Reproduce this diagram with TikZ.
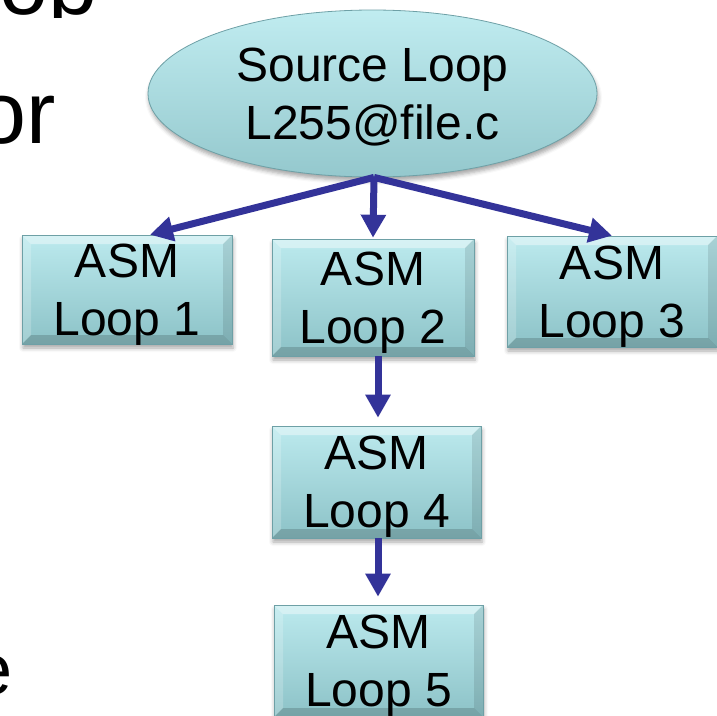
\documentclass[tikz,border=0pt]{standalone}
\usepackage{fontspec}
\setmainfont{Liberation Sans}
\usetikzlibrary{arrows.meta,shapes.geometric,shadows.blur,calc}

\definecolor{boxtop}{RGB}{188,234,238}
\definecolor{boxbot}{RGB}{140,194,199}
\definecolor{boxedge}{RGB}{110,160,166}
\definecolor{elltop}{RGB}{192,236,240}
\definecolor{ellbot}{RGB}{148,200,205}
\definecolor{arrowblue}{RGB}{51,51,153}

\newcommand{\labelfont}{\fontsize{48}{58}\selectfont}
\newcommand{\slidefont}{\fontsize{88}{100}\selectfont}
\newcommand{\subslidefont}{\fontsize{72}{84}\selectfont}

\tikzset{
  bevel/.style={
    path picture={
      \coordinate (nw) at (path picture bounding box.north west);
      \coordinate (ne) at (path picture bounding box.north east);
      \coordinate (sw) at (path picture bounding box.south west);
      \coordinate (se) at (path picture bounding box.south east);
      \fill[white,opacity=.40] (nw) -- (ne) -- ([shift={(-#1,-#1)}]ne) -- ([shift={(#1,-#1)}]nw) -- cycle;
      \fill[white,opacity=.20] (nw) -- ([shift={(#1,-#1)}]nw) -- ([shift={(#1,#1)}]sw) -- (sw) -- cycle;
      \fill[black,opacity=.16] (sw) -- (se) -- ([shift={(-#1,#1)}]se) -- ([shift={(#1,#1)}]sw) -- cycle;
      \fill[black,opacity=.10] (ne) -- (se) -- ([shift={(-#1,#1)}]se) -- ([shift={(-#1,-#1)}]ne) -- cycle;
    }},
  asmbox/.style={rectangle, inner sep=0pt, align=center, text depth=0pt,
    font=\labelfont, top color=boxtop, bottom color=boxbot,
    draw=boxedge, line width=0.6pt, bevel=9pt,
    blur shadow={shadow xshift=1pt, shadow yshift=-4pt,
      shadow blur radius=4pt, shadow opacity=35}},
  loopell/.style={ellipse, inner sep=0pt, align=center, text depth=0pt,
    font=\labelfont, top color=elltop, bottom color=ellbot,
    draw=boxedge, line width=0.8pt,
    blur shadow={shadow xshift=1pt, shadow yshift=-4pt,
      shadow blur radius=4pt, shadow opacity=35}},
  link/.style={draw=arrowblue, line width=7pt,
    -{Triangle[width=24pt,length=23pt]}},
  slidetext/.style={inner sep=0pt, font=\slidefont, text=black}
}

\begin{document}
\begin{tikzpicture}[x=1pt,y=-1pt]
  \useasboundingbox (0,0) rectangle (717,715);

  % fragments of the surrounding slide text
  \begin{scope}
    \clip (0,0) rectangle (120,17);
    \node[slidetext, anchor=base east] (fragA) at (98,14) {oop};
  \end{scope}
  \node[slidetext, anchor=base east] (fragB) at (56,143) {or};
  \node[slidetext, font=\subslidefont, anchor=base east] (fragC) at (13,694) {e};

  % source loop and its assembly loops
  \node[loopell, minimum width=449pt, minimum height=167pt] (src) at (372.5,93.5)
    {Source Loop\\L255@file.c};
  \node[asmbox, minimum width=210pt, minimum height=109pt] (b1) at (127,289.5) {ASM\\Loop 1};
  \node[asmbox, minimum width=202pt, minimum height=117pt] (b2) at (373,297.5) {ASM\\Loop 2};
  \node[asmbox, minimum width=210pt, minimum height=111pt] (b3) at (612,291.5) {ASM\\Loop 3};
  \node[asmbox, minimum width=209pt, minimum height=112pt] (b4) at (376.5,482) {ASM\\Loop 4};
  \node[asmbox, minimum width=209pt, minimum height=112pt] (b5) at (378.5,661) {ASM\\Loop 5};

  % connectors
  \draw[link] ([xshift=1.5pt]src.south) -- ([xshift=23pt]b1.north);
  \draw[link] ([xshift=1.5pt]src.south) -- ([yshift=1pt]b2.north);
  \draw[link] ([xshift=1.5pt]src.south) -- (b3.north);
  \draw[link] ([xshift=5pt]b2.south) -- ([xshift=5pt,yshift=8pt]b2.south |- b4.north);
  \draw[link] ([xshift=1.5pt]b4.south) -- ([xshift=1.5pt,yshift=8pt]b4.south |- b5.north);
\end{tikzpicture}
\end{document}
